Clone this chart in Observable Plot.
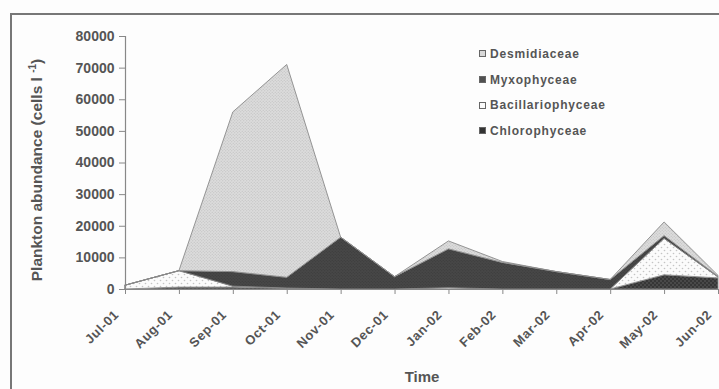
<!DOCTYPE html>
<html>
<head>
<meta charset="utf-8">
<script src="https://cdn.jsdelivr.net/npm/d3@7"></script>
<script src="https://cdn.jsdelivr.net/npm/@observablehq/plot@0.6"></script>
<style>
  html, body { margin: 0; padding: 0; background: #fff; }
  #wrap { position: relative; width: 719px; height: 389px; background: #fdfdfd; overflow: hidden; }
  #frame { position: absolute; left: 10px; top: 13px; width: 720px; height: 400px; border-top: 2px solid #777; border-left: 2px solid #777; box-sizing: border-box; }
  #chart { position: absolute; left: 0; top: 0; }
  #legend { position: absolute; left: 479px; top: 41px; font-family: "Liberation Sans", Arial, sans-serif; font-weight: bold; font-size: 12px; color: #555; letter-spacing: 0.8px; }
  #legend .row { height: 25.7px; display: flex; align-items: center; }
  #legend .box { width: 7px; height: 7px; margin-right: 4px; border: 1px solid #666; box-sizing: border-box; }
</style>
</head>
<body>
<div id="wrap">
  <div id="frame"></div>
  <div id="chart"></div>
  <div id="legend"></div>
</div>
<script>
// ---- data ----
const months = ["Jul-01","Aug-01","Sep-01","Oct-01","Nov-01","Dec-01","Jan-02","Feb-02","Mar-02","Apr-02","May-02","Jun-02"];
const seriesNames = ["Chlorophyceae","Bacillariophyceae","Myxophyceae","Desmidiaceae"]; // bottom -> top
const chlorophyceae     = [0, 600, 600, 300, 0, 0, 0, 0, 0, 0, 4500, 3500];
const bacillariophyceae = [1200, 5200, 300, 0, 0, 0, 400, 0, 0, 0, 11500, 300];
const myxophyceae       = [0, 0, 4600, 3400, 16400, 3900, 12300, 8400, 5500, 3000, 900, 200];
const desmidiaceae      = [0, 0, 50500, 67300, 0, 0, 2500, 300, 0, 0, 4300, 300];
const yTicks = [0,10000,20000,30000,40000,50000,60000,70000,80000];
const legendOrder = ["Desmidiaceae","Myxophyceae","Bacillariophyceae","Chlorophyceae"];

const valuesBySeries = {
  Chlorophyceae: chlorophyceae,
  Bacillariophyceae: bacillariophyceae,
  Myxophyceae: myxophyceae,
  Desmidiaceae: desmidiaceae
};
const table = [];
for (const s of seriesNames) valuesBySeries[s].forEach((v, i) => table.push({i, month: months[i], series: s, value: v}));

const fills = {
  Chlorophyceae: "url(#pChl)",
  Bacillariophyceae: "url(#pBac)",
  Myxophyceae: "url(#pMyx)",
  Desmidiaceae: "url(#pDes)"
};
const legendFills = {
  Desmidiaceae: "#d8d8d8",
  Myxophyceae: "#505050",
  Bacillariophyceae: "#fafafa",
  Chlorophyceae: "#333"
};

const chart = Plot.plot({
  width: 719,
  height: 389,
  marginLeft: 125,
  marginRight: 1,
  marginTop: 36,
  marginBottom: 100,
  style: {fontFamily: "'Liberation Sans', Arial, sans-serif", fontWeight: "bold", color: "#555", background: "transparent"},
  x: {domain: [0, months.length - 1]},
  y: {domain: [0, 80000]},
  color: {domain: seriesNames, range: seriesNames.map(s => fills[s])},
  marks: [
    Plot.areaY(table, Plot.stackY({order: seriesNames}, {x: "i", y: "value", z: "series", fill: "series", stroke: "#8a8a8a", strokeWidth: 0.9})),
    Plot.ruleY([0], {stroke: "#888", strokeWidth: 1.2}),
    Plot.ruleX([0], {stroke: "#888", strokeWidth: 1.2}),
    Plot.axisY({ticks: yTicks, tickSize: 6, tickPadding: 5, tickFormat: d => String(d), fontSize: 14, stroke: "#888", label: null}),
    Plot.axisX({ticks: d3.range(months.length), tickFormat: i => months[i], tickRotate: -45, tickSize: 5, tickPadding: 4, fontSize: 13, stroke: "#888", label: null, textStroke: "none"}),
  ]
});

// shift rotated x tick labels to sit lower-left of ticks, as in the reference
const svg = d3.select(chart);
svg.selectAll("g[aria-label='x-axis tick label'] text").each(function() {
  const el = d3.select(this);
  const tr = el.attr("transform") || "";
  el.attr("transform", "translate(-9,14) " + tr).style("letter-spacing", "0.6px");
});

// patterns
const defs = svg.insert("defs", ":first-child");
function pattern(id, bg, dot, size, r) {
  const p = defs.append("pattern").attr("id", id).attr("patternUnits", "userSpaceOnUse").attr("width", size).attr("height", size);
  p.append("rect").attr("width", size).attr("height", size).attr("fill", bg);
  p.append("circle").attr("cx", size/4).attr("cy", size/4).attr("r", r).attr("fill", dot);
  p.append("circle").attr("cx", 3*size/4).attr("cy", 3*size/4).attr("r", r).attr("fill", dot);
}
pattern("pDes", "#dcdcdc", "#bdbdbd", 3, 0.6);
pattern("pMyx", "#474747", "#383838", 3, 0.6);
pattern("pBac", "#fbfbfb", "#c4c4c4", 6, 0.8);
pattern("pChl", "#363636", "#6a6a6a", 4, 0.7);

// axis titles
svg.append("text")
  .attr("transform", "translate(42,170) rotate(-90)")
  .attr("text-anchor", "middle")
  .attr("font-size", 15.5).attr("font-weight", "bold").attr("fill", "#555")
  .call(t => {
    t.append("tspan").text("Plankton abundance (cells l ");
    t.append("tspan").attr("dy", -6).attr("font-size", 10).text("-1");
    t.append("tspan").attr("dy", 6).text(")");
  });
svg.append("text")
  .attr("x", 422).attr("y", 382)
  .attr("text-anchor", "middle")
  .attr("font-size", 15).attr("font-weight", "bold").attr("fill", "#555")
  .text("Time");

document.getElementById("chart").appendChild(chart);

// legend
const leg = document.getElementById("legend");
for (const s of legendOrder) {
  const row = document.createElement("div");
  row.className = "row";
  const b = document.createElement("div");
  b.className = "box";
  b.style.background = legendFills[s];
  const t = document.createElement("span");
  t.textContent = s;
  row.appendChild(b); row.appendChild(t);
  leg.appendChild(row);
}
</script>
</body>
</html>
